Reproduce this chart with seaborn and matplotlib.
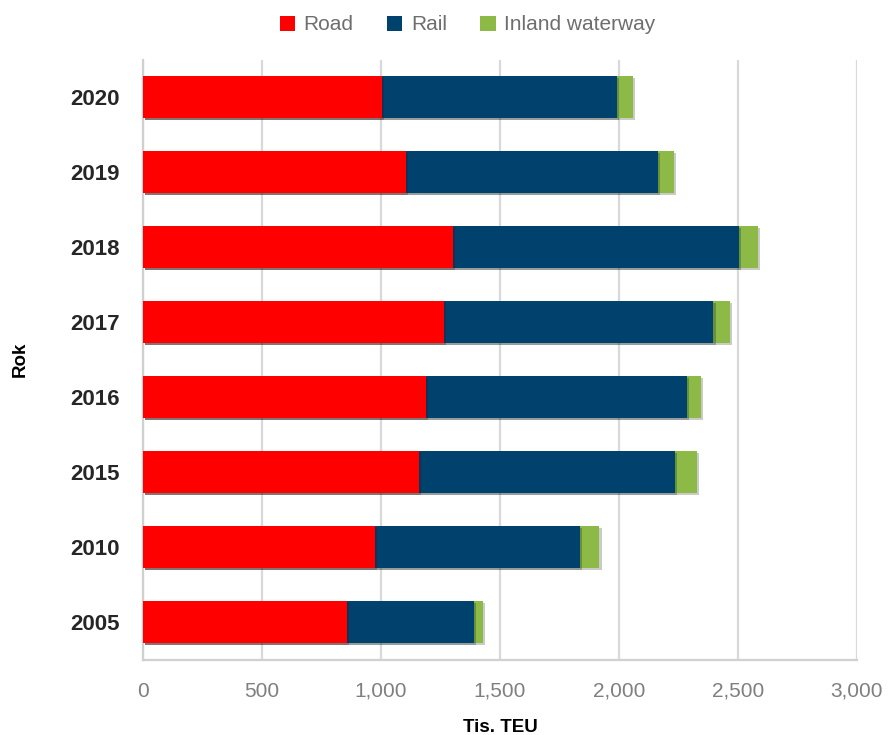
import matplotlib
matplotlib.use("Agg")
import matplotlib.pyplot as plt
import matplotlib.patheffects as pe
from matplotlib.patches import Patch
import numpy as np
import pandas as pd
import seaborn as sns

# Intermodal container transport by mode (thousand TEU)
years = ["2020", "2019", "2018", "2017", "2016", "2015", "2010", "2005"]
road = [1005, 1105, 1304, 1263, 1190, 1160, 976, 857]
rail = [988, 1059, 1199, 1134, 1097, 1075, 860, 535]
waterway = [67, 66, 80, 70, 59, 91, 82, 35]
modes = ["Road", "Rail", "Inland waterway"]
colors = {"Road": "#FF0000", "Rail": "#00426E", "Inland waterway": "#8DB946"}
xticks = [0, 500, 1000, 1500, 2000, 2500, 3000]

df = pd.DataFrame({"Rok": years, "Road": road, "Rail": rail, "Inland waterway": waterway})
df["Rail_end"] = df["Road"] + df["Rail"]
df["Water_end"] = df["Rail_end"] + df["Inland waterway"]

sns.set_theme(style="white")
plt.rcParams["font.family"] = ["Liberation Sans", "DejaVu Sans"]
narrow = ["Liberation Sans Narrow", "Liberation Sans", "DejaVu Sans"]

fig = plt.figure(figsize=(8.92, 7.35), dpi=100)
ax = fig.add_axes([0.1603, 0.1027, 0.8004, 0.8163])

shadow = [pe.SimplePatchShadow(offset=(1.5, -1.5), alpha=0.25), pe.Normal()]
layers = [("Water_end", colors["Inland waterway"]),
          ("Rail_end", colors["Rail"]),
          ("Road", colors["Road"])]
for col, c in layers:
    sns.barplot(data=df, x=col, y="Rok", order=years, orient="h", color=c,
                width=0.57, saturation=1, ax=ax, zorder=3)
for p in ax.patches:
    p.set_path_effects(shadow)
    p.set_linewidth(0)

ax.set_xlim(0, 3000)
ax.set_xticks(xticks)
ax.set_xticklabels([f"{v:,}" for v in xticks], family=narrow, fontsize=15, color="#7F7F7F")
ax.tick_params(axis="x", length=0, pad=16)
ax.tick_params(axis="y", length=0, pad=16.5)
for lbl in ax.get_yticklabels():
    lbl.set_fontweight("bold")
    lbl.set_fontsize(16)
    lbl.set_color("#262626")

ax.grid(axis="x", color="#D9D9D9", linewidth=1.6, zorder=0)
ax.set_axisbelow(True)
for s in ["top", "right"]:
    ax.spines[s].set_visible(False)
for s in ["left", "bottom"]:
    ax.spines[s].set_color("#D0D0D0")
    ax.spines[s].set_linewidth(1.6)

ax.set_xlabel("Tis. TEU", fontsize=13.5, fontweight="bold", color="black", labelpad=13)
ax.set_ylabel("Rok", fontsize=13.5, fontweight="bold", color="black", labelpad=30)

handles = [Patch(facecolor=colors[m], edgecolor="none") for m in modes]
fig.legend(handles, modes, loc="center", bbox_to_anchor=(0.524, 0.966), ncol=3,
           frameon=False, handlelength=0.75, handleheight=0.75, handletextpad=0.4,
           columnspacing=1.6, prop={"family": narrow, "size": 15}, labelcolor="#6E6E6E")

fig.savefig("out.png", dpi=100, facecolor="white")
